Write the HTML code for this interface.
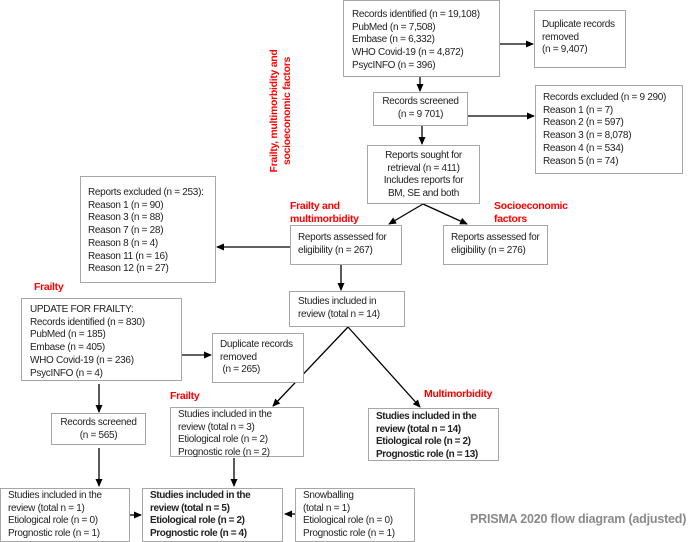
<!DOCTYPE html>
<html><head><meta charset="utf-8"><style>
body{margin:0;width:696px;height:542px;background:#fff;position:relative;overflow:hidden;font-family:"Liberation Sans",sans-serif;}
.b{position:absolute;box-sizing:border-box;border:1.5px solid #a6a6a6;background:#fff;font-size:10px;letter-spacing:-0.3px;line-height:12.7px;color:#222;padding:3px 5px;white-space:nowrap;}
.c{text-align:center;}
.bd{font-weight:bold;letter-spacing:-0.4px;}
.r{position:absolute;color:#f00;font-weight:bold;font-size:10.5px;letter-spacing:-0.3px;line-height:13px;white-space:nowrap;}
svg{position:absolute;left:0;top:0;}
</style></head><body>
<svg width="696" height="542">
<defs><marker id="a" markerWidth="8" markerHeight="8" refX="7" refY="4" orient="auto" markerUnits="userSpaceOnUse"><path d="M0,0.5 L8,4 L0,7.5z" fill="#000"/></marker></defs>
<g stroke="#000" stroke-width="1.3" fill="none" marker-end="url(#a)">
<line x1="500" y1="44" x2="533" y2="44"/>
<line x1="420" y1="77" x2="420" y2="91"/>
<line x1="468" y1="116" x2="534" y2="116"/>
<line x1="422" y1="126" x2="422" y2="144"/>
<line x1="423" y1="204" x2="389" y2="224"/>
<line x1="423" y1="204" x2="467" y2="224"/>
<line x1="290" y1="247" x2="217" y2="247"/>
<line x1="341" y1="265" x2="341" y2="290"/>
<line x1="348" y1="327" x2="273" y2="406"/>
<line x1="348" y1="327" x2="420" y2="407"/>
<line x1="182" y1="355" x2="211" y2="355"/>
<line x1="99" y1="384" x2="99" y2="412"/>
<line x1="99" y1="448" x2="99" y2="486"/>
<line x1="234" y1="458" x2="234" y2="486"/>
<line x1="130" y1="515" x2="141" y2="515"/>
<line x1="295" y1="514" x2="285" y2="514"/>
</g>
</svg>
<div class="b" style="left:343px;top:0;width:157px;height:77px;padding:8px 8px">Records identified (n = 19,108)<br>PubMed (n = 7,508)<br>Embase (n = 6,332)<br>WHO Covid-19 (n = 4,872)<br>PsycINFO (n = 396)</div>
<div class="b" style="left:534px;top:10px;width:92px;height:58px;padding:8px 7px">Duplicate records<br>removed<br>(n = 9,407)</div>
<div class="b c" style="left:373px;top:92px;width:95px;height:34px;padding:3px 2px">Records screened<br>(n = 9 701)</div>
<div class="b" style="left:535px;top:85px;width:148px;height:89px;padding:6px 7px">Records excluded (n = 9 290)<br>Reason 1 (n = 7)<br>Reason 2 (n = 597)<br>Reason 3 (n = 8,078)<br>Reason 4 (n = 534)<br>Reason 5 (n = 74)</div>
<div class="b c" style="left:367px;top:145px;width:113px;height:59px;padding:4px 2px">Reports sought for<br>retrieval (n = 411)<br>Includes reports for<br>BM, SE and both</div>
<div class="b" style="left:290px;top:225px;width:112px;height:40px;padding:6px 7px">Reports assessed for<br>eligibility (n = 267)</div>
<div class="b" style="left:443px;top:225px;width:105px;height:40px;padding:6px 7px">Reports assessed for<br>eligibility (n = 276)</div>
<div class="b" style="left:80px;top:176px;width:136px;height:107px;padding:10px 7px">Reports excluded (n = 253):<br>Reason 1 (n = 90)<br>Reason 3 (n = 88)<br>Reason 7 (n = 28)<br>Reason 8 (n = 4)<br>Reason 11 (n = 16)<br>Reason 12 (n = 27)</div>
<div class="b" style="left:289px;top:291px;width:116px;height:36px;padding:4px 8px">Studies included in<br>review (total n = 14)</div>
<div class="b" style="left:21px;top:298px;width:161px;height:83px;padding:5px 8px">UPDATE FOR FRAILTY:<br>Records identified (n = 830)<br>PubMed (n = 185)<br>Embase (n = 405)<br>WHO Covid-19 (n = 236)<br>PsycINFO (n = 4)</div>
<div class="b" style="left:212px;top:333px;width:92px;height:50px;padding:5px 7px">Duplicate records<br>removed<br>&nbsp;(n = 265)</div>
<div class="b c" style="left:51px;top:413px;width:95px;height:32px;padding:3px 2px">Records screened<br>(n = 565)</div>
<div class="b" style="left:170px;top:407px;width:134px;height:50px;padding:1px 7px">Studies included in the<br>review (total n = 3)<br>Etiological role (n = 2)<br>Prognostic role (n = 2)</div>
<div class="b bd" style="left:368px;top:408px;width:131px;height:53px;padding:2px 7px">Studies included in the<br>review (total n = 14)<br>Etiological role (n = 2)<br>Prognostic role (n = 13)</div>
<div class="b" style="left:0;top:488px;width:130px;height:54px;padding:1px 7px">Studies included in the<br>review (total n = 1)<br>Etiological role (n = 0)<br>Prognostic role (n = 1)</div>
<div class="b bd" style="left:142px;top:488px;width:141px;height:54px;padding:1px 7px">Studies included in the<br>review (total n = 5)<br>Etiological role (n = 2)<br>Prognostic role (n = 4)</div>
<div class="b" style="left:295px;top:488px;width:120px;height:54px;padding:1px 7px">Snowballing<br>(total n = 1)<br>Etiological role (n = 0)<br>Prognostic role (n = 1)</div>
<div class="r" style="left:290px;top:200px">Frailty and<br>multimorbidity</div>
<div class="r" style="left:494px;top:200px">Socioeconomic<br>factors</div>
<div class="r" style="left:34px;top:281px">Frailty</div>
<div class="r" style="left:170px;top:390px">Frailty</div>
<div class="r" style="left:424px;top:388px">Multimorbidity</div>
<div class="r" style="left:216px;top:98px;width:130px;text-align:center;transform:rotate(-90deg);line-height:13px">Frailty, multimorbidity and<br>socioeconomic factors</div>
<div style="position:absolute;left:470px;top:512px;font-size:12.5px;font-weight:bold;color:#8a8a8a;white-space:nowrap;letter-spacing:-0.2px">PRISMA 2020 flow diagram (adjusted)</div>
</body></html>
